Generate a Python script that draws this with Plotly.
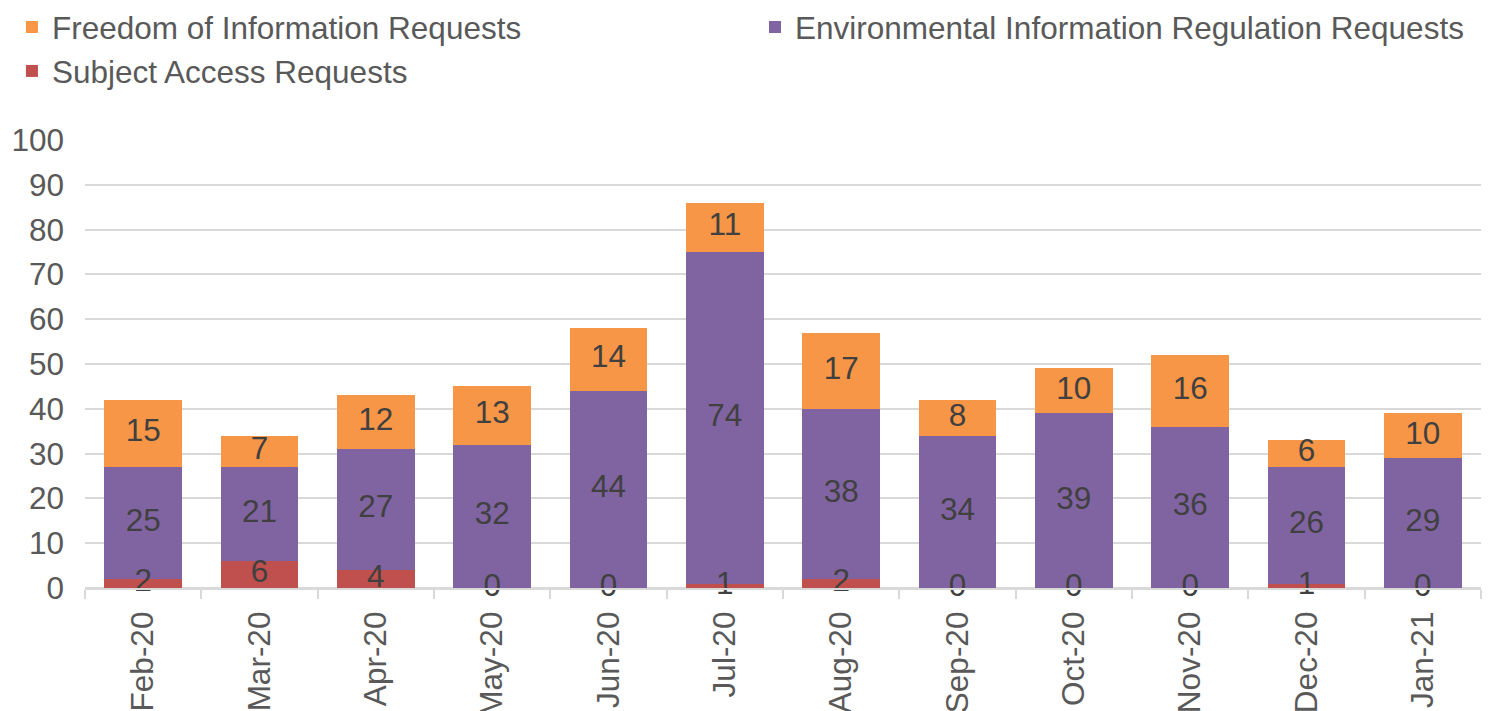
import plotly.graph_objects as go

months = ["Feb-20", "Mar-20", "Apr-20", "May-20", "Jun-20", "Jul-20",
          "Aug-20", "Sep-20", "Oct-20", "Nov-20", "Dec-20", "Jan-21"]
sar = [2, 6, 4, 0, 0, 1, 2, 0, 0, 0, 1, 0]
eir = [25, 21, 27, 32, 44, 74, 38, 34, 39, 36, 26, 29]
foi = [15, 7, 12, 13, 14, 11, 17, 8, 10, 16, 6, 10]

FONT = "Liberation Sans, Arial, sans-serif"
LABEL_COLOR = "#404040"
AXIS_TEXT = "#595959"
GRID = "#D9D9D9"
FS = 31.5


def mids(base, vals):
    """Centre of each stacked segment."""
    return [b + v / 2 for b, v in zip(base, vals)]


fig = go.Figure()

series = [
    ("Subject Access Requests", sar, "#C0504D", "legend"),
    ("Environmental Information Regulation Requests", eir, "#8064A2", "legend2"),
    ("Freedom of Information Requests", foi, "#F79646", "legend"),
]

base = [0] * len(months)
for name, vals, color, leg in series:
    fig.add_trace(go.Bar(
        x=months,
        y=vals,
        name=name,
        legend=leg,
        marker=dict(color=color, line=dict(width=0)),
    ))
    # value labels centred in each segment
    fig.add_trace(go.Scatter(
        x=months,
        y=mids(base, vals),
        text=[str(v) for v in vals],
        mode="text",
        textposition="middle center",
        textfont=dict(size=FS, color=LABEL_COLOR, family=FONT),
        showlegend=False,
        hoverinfo="skip",
        cliponaxis=False,
    ))
    base = [b + v for b, v in zip(base, vals)]

legend_style = dict(
    orientation="v",
    traceorder="reversed",
    xref="container",
    yref="container",
    xanchor="left",
    yanchor="top",
    y=1.0,
    bgcolor="rgba(0,0,0,0)",
    font=dict(size=FS, color=AXIS_TEXT, family=FONT),
    itemwidth=30,
    tracegroupgap=0,
)

fig.update_layout(
    width=1493,
    height=711,
    barmode="stack",
    bargap=0.33,
    plot_bgcolor="white",
    paper_bgcolor="white",
    font=dict(family=FONT, size=FS, color=AXIS_TEXT),
    margin=dict(l=85, r=12, t=140, b=123, autoexpand=False),
    legend=dict(legend_style, x=0.008),
    legend2=dict(legend_style, x=0.5057),
)

fig.update_yaxes(
    range=[0, 100],
    dtick=10,
    showgrid=True,
    gridcolor=GRID,
    gridwidth=2,
    zeroline=True,
    zerolinecolor=GRID,
    zerolinewidth=2,
    tickfont=dict(size=FS, color=AXIS_TEXT),
    ticklabelstandoff=20,
    automargin=False,
)

fig.update_xaxes(
    range=[-0.5, len(months) - 0.5],
    tickangle=-90,
    ticks="outside",
    tickson="boundaries",
    ticklen=9,
    tickwidth=2,
    tickcolor=GRID,
    showline=True,
    linecolor=GRID,
    linewidth=2,
    tickfont=dict(size=FS, color=AXIS_TEXT),
    ticklabelstandoff=9,
    automargin=False,
)

fig.write_html(
    "out.html",
    config={"displayModeBar": False},
    post_script="document.body.style.margin='0';",
)
